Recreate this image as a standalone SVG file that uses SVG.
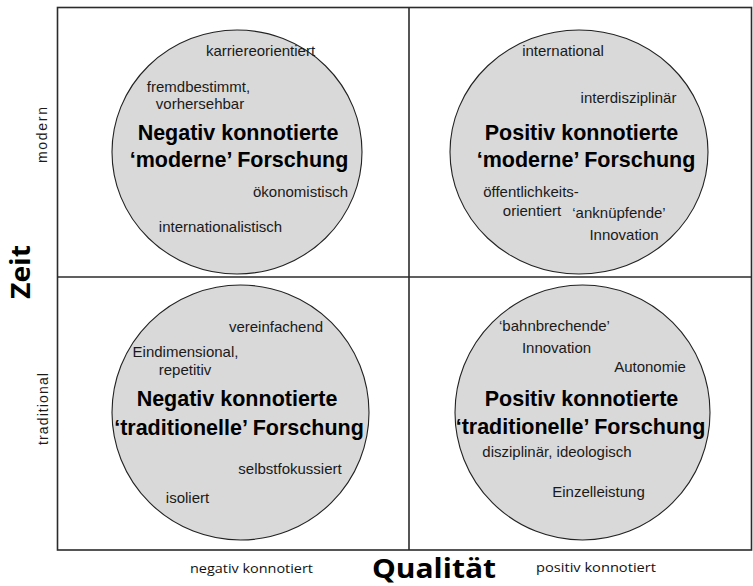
<svg xmlns="http://www.w3.org/2000/svg" width="753" height="586" viewBox="0 0 753 586">
<style>
.bg{fill:#ffffff}
.frame{fill:none;stroke:#2b2b2b;stroke-width:1.6}
.circ{fill:#d9d9d9;stroke:#222;stroke-width:1.1}
.s{font-family:"Liberation Sans",Arial,sans-serif;font-size:15px;fill:#1a1a1a;text-anchor:middle}
.b{font-family:"Liberation Sans",Arial,sans-serif;font-size:21.5px;font-weight:bold;fill:#000;text-anchor:middle}
.ax{font-family:"Liberation Sans",Arial,sans-serif;font-size:14px;fill:#1a1a1a;text-anchor:middle}
.axl{font-family:"Open Sans","Liberation Sans",sans-serif;font-size:13px;fill:#111;text-anchor:middle}
.big{font-family:"Open Sans","Liberation Sans",sans-serif;font-size:26px;font-weight:bold;fill:#000;text-anchor:middle}
</style>
<rect class="bg" x="0" y="0" width="753" height="586"/>
<g id="frame">
<rect class="frame" x="57.5" y="7.5" width="694" height="542.5"/>
<line class="frame" x1="409" y1="7.5" x2="409" y2="550"/>
<line class="frame" x1="57.5" y1="277" x2="751.5" y2="277"/>
</g>
<g id="node-tl">
<ellipse class="circ" cx="237" cy="152" rx="125" ry="122"/>
<text class="s" x="260.5" y="56">karriereorientiert</text>
<text class="s" x="198.5" y="92">fremdbestimmt,</text>
<text class="s" x="200" y="109">vorhersehbar</text>
<text class="b" x="238" y="140">Negativ konnotierte</text>
<text class="b" x="239" y="167">‘moderne’ Forschung</text>
<text class="s" x="300.5" y="197">ökonomistisch</text>
<text class="s" x="220.5" y="232">internationalistisch</text>
</g>
<g id="node-tr">
<ellipse class="circ" cx="579" cy="152" rx="129" ry="122"/>
<text class="s" x="563" y="56">international</text>
<text class="s" x="628.5" y="103">interdisziplinär</text>
<text class="b" x="581.5" y="140">Positiv konnotierte</text>
<text class="b" x="586" y="167">‘moderne’ Forschung</text>
<text class="s" x="531" y="197">öffentlichkeits-</text>
<text class="s" x="532" y="216">orientiert</text>
<text class="s" x="619" y="218">‘anknüpfende’</text>
<text class="s" x="624" y="240">Innovation</text>
</g>
<g id="node-bl">
<ellipse class="circ" cx="240.5" cy="412.5" rx="128.5" ry="127.5"/>
<text class="s" x="276" y="332">vereinfachend</text>
<text class="s" x="185.5" y="357">Eindimensional,</text>
<text class="s" x="185" y="375">repetitiv</text>
<text class="b" x="237" y="406">Negativ konnotierte</text>
<text class="b" x="239" y="435">‘traditionelle’ Forschung</text>
<text class="s" x="290" y="474">selbstfokussiert</text>
<text class="s" x="187.5" y="503">isoliert</text>
</g>
<g id="node-br">
<ellipse class="circ" cx="582.5" cy="412.5" rx="127.5" ry="127.5"/>
<text class="s" x="554.5" y="331">‘bahnbrechende’</text>
<text class="s" x="556.5" y="353">Innovation</text>
<text class="s" x="650" y="372">Autonomie</text>
<text class="b" x="581.5" y="406">Positiv konnotierte</text>
<text class="b" x="580.5" y="434">‘traditionelle’ Forschung</text>
<text class="s" x="557" y="457">disziplinär, ideologisch</text>
<text class="s" x="598.5" y="497">Einzelleistung</text>
</g>
<g id="axes">
<text class="ax" transform="translate(47,135) rotate(-90)" textLength="56" lengthAdjust="spacing">modern</text>
<text class="ax" transform="translate(48,409) rotate(-90)" textLength="72" lengthAdjust="spacing">traditional</text>
<text class="big" transform="translate(30,272) rotate(-90)" textLength="54" lengthAdjust="spacingAndGlyphs">Zeit</text>
<text class="big" x="434" y="578" textLength="124" lengthAdjust="spacingAndGlyphs">Qualität</text>
<text class="axl" x="251.5" y="573" textLength="123" lengthAdjust="spacingAndGlyphs">negativ konnotiert</text>
<text class="axl" x="596" y="572" textLength="120" lengthAdjust="spacingAndGlyphs">positiv konnotiert</text>
</g>
</svg>
